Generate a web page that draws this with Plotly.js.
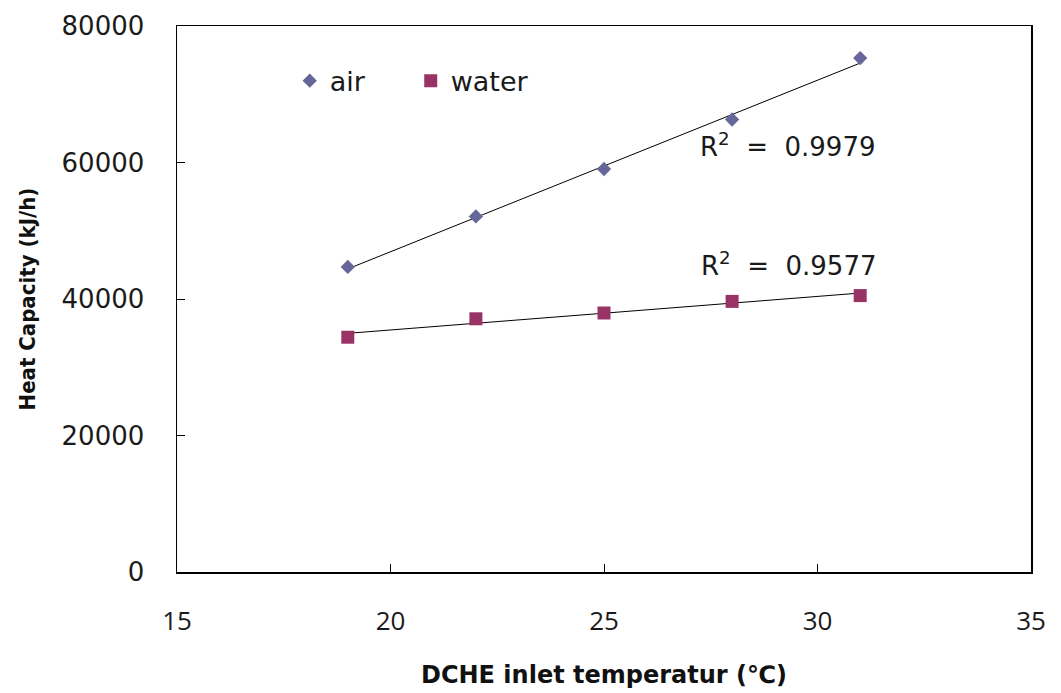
<!DOCTYPE html>
<html>
<head>
<meta charset="utf-8">
<script src="https://cdn.plot.ly/plotly-3.0.1.min.js"></script>
<style>html,body{margin:0;padding:0;background:#fff;}#chart{width:1061px;height:693px;}</style>
</head>
<body>
<div id="chart"></div>
<script>
// Data
const temperature = [19, 22, 25, 28, 31];
const airHeat = [44700, 52100, 59050, 66300, 75300];
const waterHeat = [34400, 37100, 37950, 39650, 40500];
const r2Labels = ["R<sup>2</sup>  =  0.9979", "R<sup>2</sup>  =  0.9577"];
const xTicks = [15, 20, 25, 30, 35];
const yTicks = [0, 20000, 40000, 60000, 80000];

function linearFit(xs, ys) {
  const n = xs.length;
  const mx = xs.reduce((a, b) => a + b, 0) / n;
  const my = ys.reduce((a, b) => a + b, 0) / n;
  let sxy = 0, sxx = 0;
  for (let i = 0; i < n; i++) { sxy += (xs[i] - mx) * (ys[i] - my); sxx += (xs[i] - mx) ** 2; }
  const b = sxy / sxx, a = my - b * mx;
  const x0 = Math.min(...xs), x1 = Math.max(...xs);
  return { x: [x0, x1], y: [a + b * x0, a + b * x1] };
}
const airFit = linearFit(temperature, airHeat);
const waterFit = linearFit(temperature, waterHeat);

const tickFont = { family: "DejaVu Sans, Verdana, sans-serif", size: 26, color: "#1a1a1a" };

const traces = [
  { x: airFit.x, y: airFit.y, mode: "lines", line: { color: "#000", width: 1 }, showlegend: false, hoverinfo: "skip" },
  { x: waterFit.x, y: waterFit.y, mode: "lines", line: { color: "#000", width: 1 }, showlegend: false, hoverinfo: "skip" },
  { x: temperature, y: airHeat, name: "air", mode: "markers", type: "scatter",
    marker: { symbol: "diamond", size: 11, color: "#666699" } },
  { x: temperature, y: waterHeat, name: "water", mode: "markers", type: "scatter",
    marker: { symbol: "square", size: 13, color: "#993366" } }
];

const layout = {
  width: 1061, height: 693,
  margin: { l: 177, r: 30, t: 26, b: 121 },
  paper_bgcolor: "#fff", plot_bgcolor: "#fff",
  showlegend: true,
  legend: {
    orientation: "h", x: 0.132, y: 0.899, xanchor: "left", yanchor: "middle",
    bgcolor: "rgba(0,0,0,0)", font: { family: "DejaVu Sans, Verdana, sans-serif", size: 27, color: "#1a1a1a" },
    entrywidth: 76, entrywidthmode: "pixels"
  },
  xaxis: {
    range: [15, 35], tickvals: xTicks, ticktext: xTicks.map(String),
    ticks: "inside", ticklen: 8, tickcolor: "#000", tickwidth: 1,
    showline: true, linecolor: "#000", linewidth: 1.5, mirror: true,
    showgrid: false, zeroline: false,
    tickfont: { family: "Open Sans, Noto Sans, sans-serif", size: 26, color: "#1a1a1a" },
    ticklabelstandoff: 25,
    title: { text: "DCHE inlet temperatur (℃)", standoff: 29,
      font: { family: "DejaVu Sans, sans-serif", size: 24, color: "#111", weight: "bold" } }
  },
  yaxis: {
    range: [0, 80000], tickvals: yTicks, ticktext: yTicks.map(String),
    ticks: "inside", ticklen: 8, tickcolor: "#000", tickwidth: 1,
    showline: true, linecolor: "#000", linewidth: 1.5, mirror: true,
    showgrid: false, zeroline: false,
    tickfont: tickFont,
    ticklabelstandoff: 26,
    title: { text: "Heat Capacity (kJ/h)", standoff: 20,
      font: { family: "Liberation Sans Narrow, DejaVu Sans Condensed, sans-serif", size: 22, color: "#111", weight: "bold" } }
  },
  annotations: [
    { x: 29.3, y: 62500, xref: "x", yref: "y", text: r2Labels[0], showarrow: false,
      font: tickFont, xanchor: "center", yanchor: "middle" },
    { x: 29.33, y: 45200, xref: "x", yref: "y", text: r2Labels[1], showarrow: false,
      font: tickFont, xanchor: "center", yanchor: "middle" }
  ]
};

Plotly.newPlot("chart", traces, layout, { displayModeBar: false, staticPlot: true });
</script>
</body>
</html>
